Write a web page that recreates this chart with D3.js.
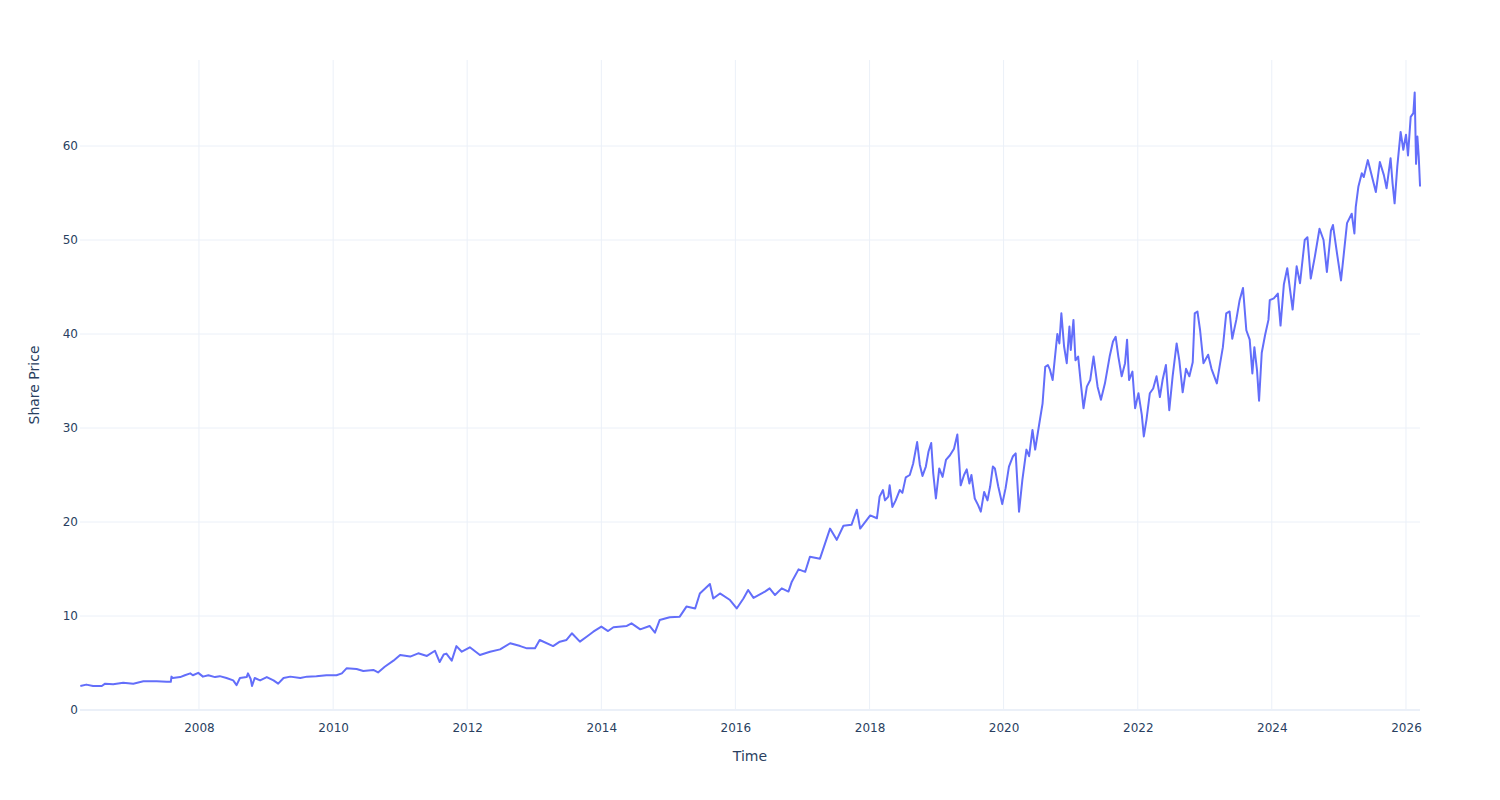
<!DOCTYPE html>
<html>
<head>
<meta charset="utf-8">
<script src="https://cdn.jsdelivr.net/npm/d3@7"></script>
<style>
  html, body { margin: 0; padding: 0; background: #fff; }
  svg { display: block; font-family: "DejaVu Sans", Verdana, Arial, sans-serif; }
</style>
</head>
<body>
<svg id="chart" width="1500" height="800"></svg>
<script>
// [decimal year, share price]
const pricePoints = [
  [2006.23,2.55],[2006.32,2.70],[2006.42,2.55],[2006.55,2.55],[2006.60,2.80],[2006.72,2.75],
  [2006.87,2.90],[2007.02,2.80],[2007.17,3.05],[2007.37,3.05],[2007.52,3.00],[2007.58,3.00],
  [2007.59,3.55],[2007.61,3.40],[2007.72,3.50],[2007.79,3.70],[2007.87,3.90],[2007.91,3.70],
  [2007.99,3.95],[2008.06,3.55],[2008.14,3.70],[2008.24,3.50],[2008.31,3.60],[2008.41,3.40],
  [2008.51,3.15],[2008.56,2.65],[2008.61,3.40],[2008.71,3.50],[2008.73,3.90],[2008.77,3.30],
  [2008.79,2.55],[2008.83,3.40],[2008.91,3.15],[2009.01,3.50],[2009.11,3.15],[2009.18,2.80],
  [2009.26,3.40],[2009.36,3.55],[2009.51,3.40],[2009.61,3.55],[2009.75,3.60],[2009.90,3.70],
  [2010.05,3.70],[2010.13,3.90],[2010.20,4.43],[2010.35,4.37],[2010.45,4.15],[2010.60,4.26],
  [2010.67,4.00],[2010.77,4.60],[2010.90,5.25],[2011.00,5.85],[2011.15,5.68],[2011.27,6.03],
  [2011.40,5.75],[2011.52,6.30],[2011.59,5.10],[2011.65,5.90],[2011.69,6.00],[2011.77,5.25],
  [2011.84,6.80],[2011.92,6.20],[2012.04,6.67],[2012.19,5.85],[2012.34,6.20],[2012.49,6.45],
  [2012.64,7.10],[2012.79,6.80],[2012.89,6.56],[2013.01,6.56],[2013.08,7.45],[2013.28,6.80],
  [2013.38,7.27],[2013.48,7.45],[2013.56,8.16],[2013.68,7.27],[2013.78,7.80],[2013.88,8.33],
  [2014.00,8.87],[2014.10,8.40],[2014.18,8.80],[2014.38,8.94],[2014.45,9.22],[2014.58,8.58],
  [2014.72,8.94],[2014.80,8.23],[2014.87,9.57],[2015.02,9.86],[2015.17,9.93],[2015.27,11.0],
  [2015.40,10.8],[2015.47,12.4],[2015.62,13.4],[2015.67,11.86],[2015.77,12.4],[2015.92,11.7],
  [2016.02,10.8],[2016.12,11.86],[2016.19,12.77],[2016.27,11.93],[2016.44,12.6],[2016.51,12.94],
  [2016.59,12.23],[2016.69,12.94],[2016.79,12.6],[2016.84,13.65],[2016.94,14.96],[2017.04,14.7],
  [2017.11,16.3],[2017.26,16.1],[2017.41,19.3],[2017.51,18.1],[2017.61,19.6],[2017.73,19.7],
  [2017.81,21.3],[2017.86,19.3],[2018.01,20.7],[2018.11,20.4],
  [2018.15,22.7],[2018.20,23.4],[2018.23,22.3],[2018.28,22.7],[2018.30,23.9],[2018.34,21.6],
  [2018.39,22.3],[2018.45,23.4],[2018.49,23.1],[2018.54,24.75],[2018.60,25.0],[2018.65,26.2],
  [2018.71,28.5],[2018.75,26.1],[2018.79,24.9],[2018.84,25.9],[2018.88,27.5],[2018.92,28.4],
  [2018.95,25.2],[2018.99,22.5],[2019.04,25.7],[2019.09,24.8],[2019.14,26.6],[2019.20,27.1],
  [2019.26,27.8],[2019.31,29.3],[2019.34,26.2],[2019.36,23.9],[2019.41,25.0],[2019.45,25.6],
  [2019.49,24.1],[2019.52,25.0],[2019.57,22.5],[2019.62,21.8],[2019.66,21.1],[2019.71,23.2],
  [2019.76,22.3],[2019.80,23.8],[2019.84,25.9],[2019.87,25.7],[2019.92,23.8],[2019.98,21.9],
  [2020.03,23.6],[2020.08,25.9],[2020.14,27.0],[2020.18,27.3],[2020.23,21.1],[2020.28,24.5],
  [2020.34,27.7],[2020.38,27.0],[2020.43,29.8],[2020.47,27.7],[2020.53,30.4],
  [2020.58,32.6],[2020.62,36.5],[2020.66,36.7],[2020.69,36.2],[2020.73,35.1],[2020.76,37.2],
  [2020.80,40.0],[2020.83,39.0],[2020.86,42.2],[2020.90,38.7],[2020.94,36.9],[2020.98,40.8],
  [2021.00,38.3],[2021.04,41.5],[2021.07,37.2],[2021.11,37.6],[2021.15,34.75],[2021.19,32.1],
  [2021.24,34.4],[2021.29,35.1],[2021.34,37.6],[2021.40,34.4],[2021.45,33.0],[2021.51,34.75],
  [2021.58,37.6],[2021.63,39.2],[2021.67,39.7],[2021.71,37.6],[2021.76,35.5],[2021.81,36.9],
  [2021.84,39.4],[2021.87,35.1],[2021.92,36.0],[2021.96,32.1],[2022.01,33.7],[2022.06,31.4],
  [2022.09,29.1],[2022.13,30.9],[2022.18,33.7],[2022.23,34.2],[2022.28,35.5],[2022.33,33.3],
  [2022.37,35.1],[2022.42,36.7],[2022.47,31.9],[2022.52,35.5],[2022.58,39.0],[2022.62,37.2],
  [2022.67,33.8],[2022.72,36.3],[2022.77,35.5],[2022.82,37.0],[2022.85,42.2],[2022.89,42.4],
  [2022.93,40.4],[2022.98,36.9],[2023.05,37.8],[2023.10,36.3],[2023.18,34.75],[2023.22,36.5],
  [2023.27,38.6],[2023.32,42.2],[2023.37,42.4],[2023.41,39.5],[2023.47,41.5],[2023.52,43.6],
  [2023.57,44.9],[2023.62,40.4],[2023.67,39.4],[2023.71,35.8],[2023.74,38.6],[2023.78,36.1],
  [2023.81,32.9],[2023.85,38.0],[2023.90,39.9],[2023.95,41.5],[2023.97,43.6],[2024.03,43.8],
  [2024.09,44.3],[2024.13,40.9],[2024.18,45.3],[2024.23,47.0],[2024.31,42.6],[2024.37,47.2],
  [2024.42,45.4],[2024.49,50.0],[2024.53,50.3],[2024.58,45.9],[2024.64,48.2],[2024.71,51.2],
  [2024.77,50.0],[2024.82,46.6],[2024.88,51.0],[2024.91,51.6],[2024.97,48.6],[2025.03,45.7],
  [2025.07,48.4],[2025.12,51.8],[2025.19,52.8],[2025.23,50.7],[2025.25,53.5],[2025.29,55.7],
  [2025.34,57.1],[2025.37,56.7],[2025.43,58.5],[2025.48,57.1],[2025.55,55.1],[2025.61,58.3],
  [2025.67,56.9],[2025.71,55.5],[2025.77,58.7],[2025.80,56.0],[2025.83,53.9],[2025.87,57.8],
  [2025.92,61.5],[2025.96,59.6],[2026.00,61.2],[2026.03,59.0],[2026.07,63.1],[2026.11,63.5],
  [2026.13,65.7],[2026.15,58.1],[2026.17,61.0],[2026.19,58.9],[2026.21,55.7]
];
const xStart = 2006.225, xEnd = 2026.209;
const yMax = 69.15;
const yTicks = [0, 10, 20, 30, 40, 50, 60];
const xTickYears = [2008, 2010, 2012, 2014, 2016, 2018, 2020, 2022, 2024, 2026];
const xTitle = "Time", yTitle = "Share Price";

function toDate(y) {
  const yr = Math.floor(y);
  const s = new Date(yr, 0, 1), e = new Date(yr + 1, 0, 1);
  return new Date(+s + (y - yr) * (e - s));
}
const data = pricePoints.map(p => ({ d: toDate(p[0]), v: p[1] }));

const W = 1500, H = 800;
const m = { l: 80, r: 80, t: 60, b: 90 };
const svg = d3.select("#chart");
const x = d3.scaleTime().domain([toDate(xStart), toDate(xEnd)]).range([m.l, W - m.r]);
const y = d3.scaleLinear().domain([0, yMax]).range([H - m.b, m.t]);

const grid = "#EBF0F8", txt = "#2a3f5f";
const font = '"DejaVu Sans", Verdana, Arial, sans-serif';

// vertical grid
svg.append("g").selectAll("line").data(xTickYears).join("line")
  .attr("x1", d => x(new Date(d, 0, 1))).attr("x2", d => x(new Date(d, 0, 1)))
  .attr("y1", m.t).attr("y2", H - m.b)
  .attr("stroke", grid).attr("stroke-width", 1);
// horizontal grid
svg.append("g").selectAll("line").data(yTicks).join("line")
  .attr("x1", m.l).attr("x2", W - m.r)
  .attr("y1", d => y(d)).attr("y2", d => y(d))
  .attr("stroke", grid).attr("stroke-width", d => d === 0 ? 2 : 1);

// x axis
const xAxis = d3.axisBottom(x)
  .tickValues(xTickYears.map(d => new Date(d, 0, 1)))
  .tickFormat(d3.timeFormat("%Y")).tickSize(0).tickPadding(13);
const gx = svg.append("g").attr("transform", `translate(0,${H - m.b})`).call(xAxis);
gx.select(".domain").remove();
gx.selectAll("text").attr("fill", txt).style("font-size", "12px").style("font-family", font);

// y axis
const yAxis = d3.axisLeft(y).tickValues(yTicks).tickSize(0).tickPadding(2);
const gy = svg.append("g").attr("transform", `translate(${m.l},0)`).call(yAxis);
gy.select(".domain").remove();
gy.selectAll("text").attr("fill", txt).style("font-size", "12px").style("font-family", font);

// line
const line = d3.line().x(d => x(d.d)).y(d => y(d.v));
svg.append("path").datum(data)
  .attr("d", line).attr("fill", "none")
  .attr("stroke", "#636efa").attr("stroke-width", 2)
  .attr("stroke-linejoin", "round");

// titles
svg.append("text").attr("x", (m.l + W - m.r) / 2).attr("y", 761)
  .attr("text-anchor", "middle").attr("fill", txt).style("font-size", "14px").text(xTitle);
svg.append("text").attr("transform", `translate(39,${(m.t + H - m.b) / 2}) rotate(-90)`)
  .attr("text-anchor", "middle").attr("fill", txt).style("font-size", "14px").text(yTitle);
</script>
</body>
</html>
